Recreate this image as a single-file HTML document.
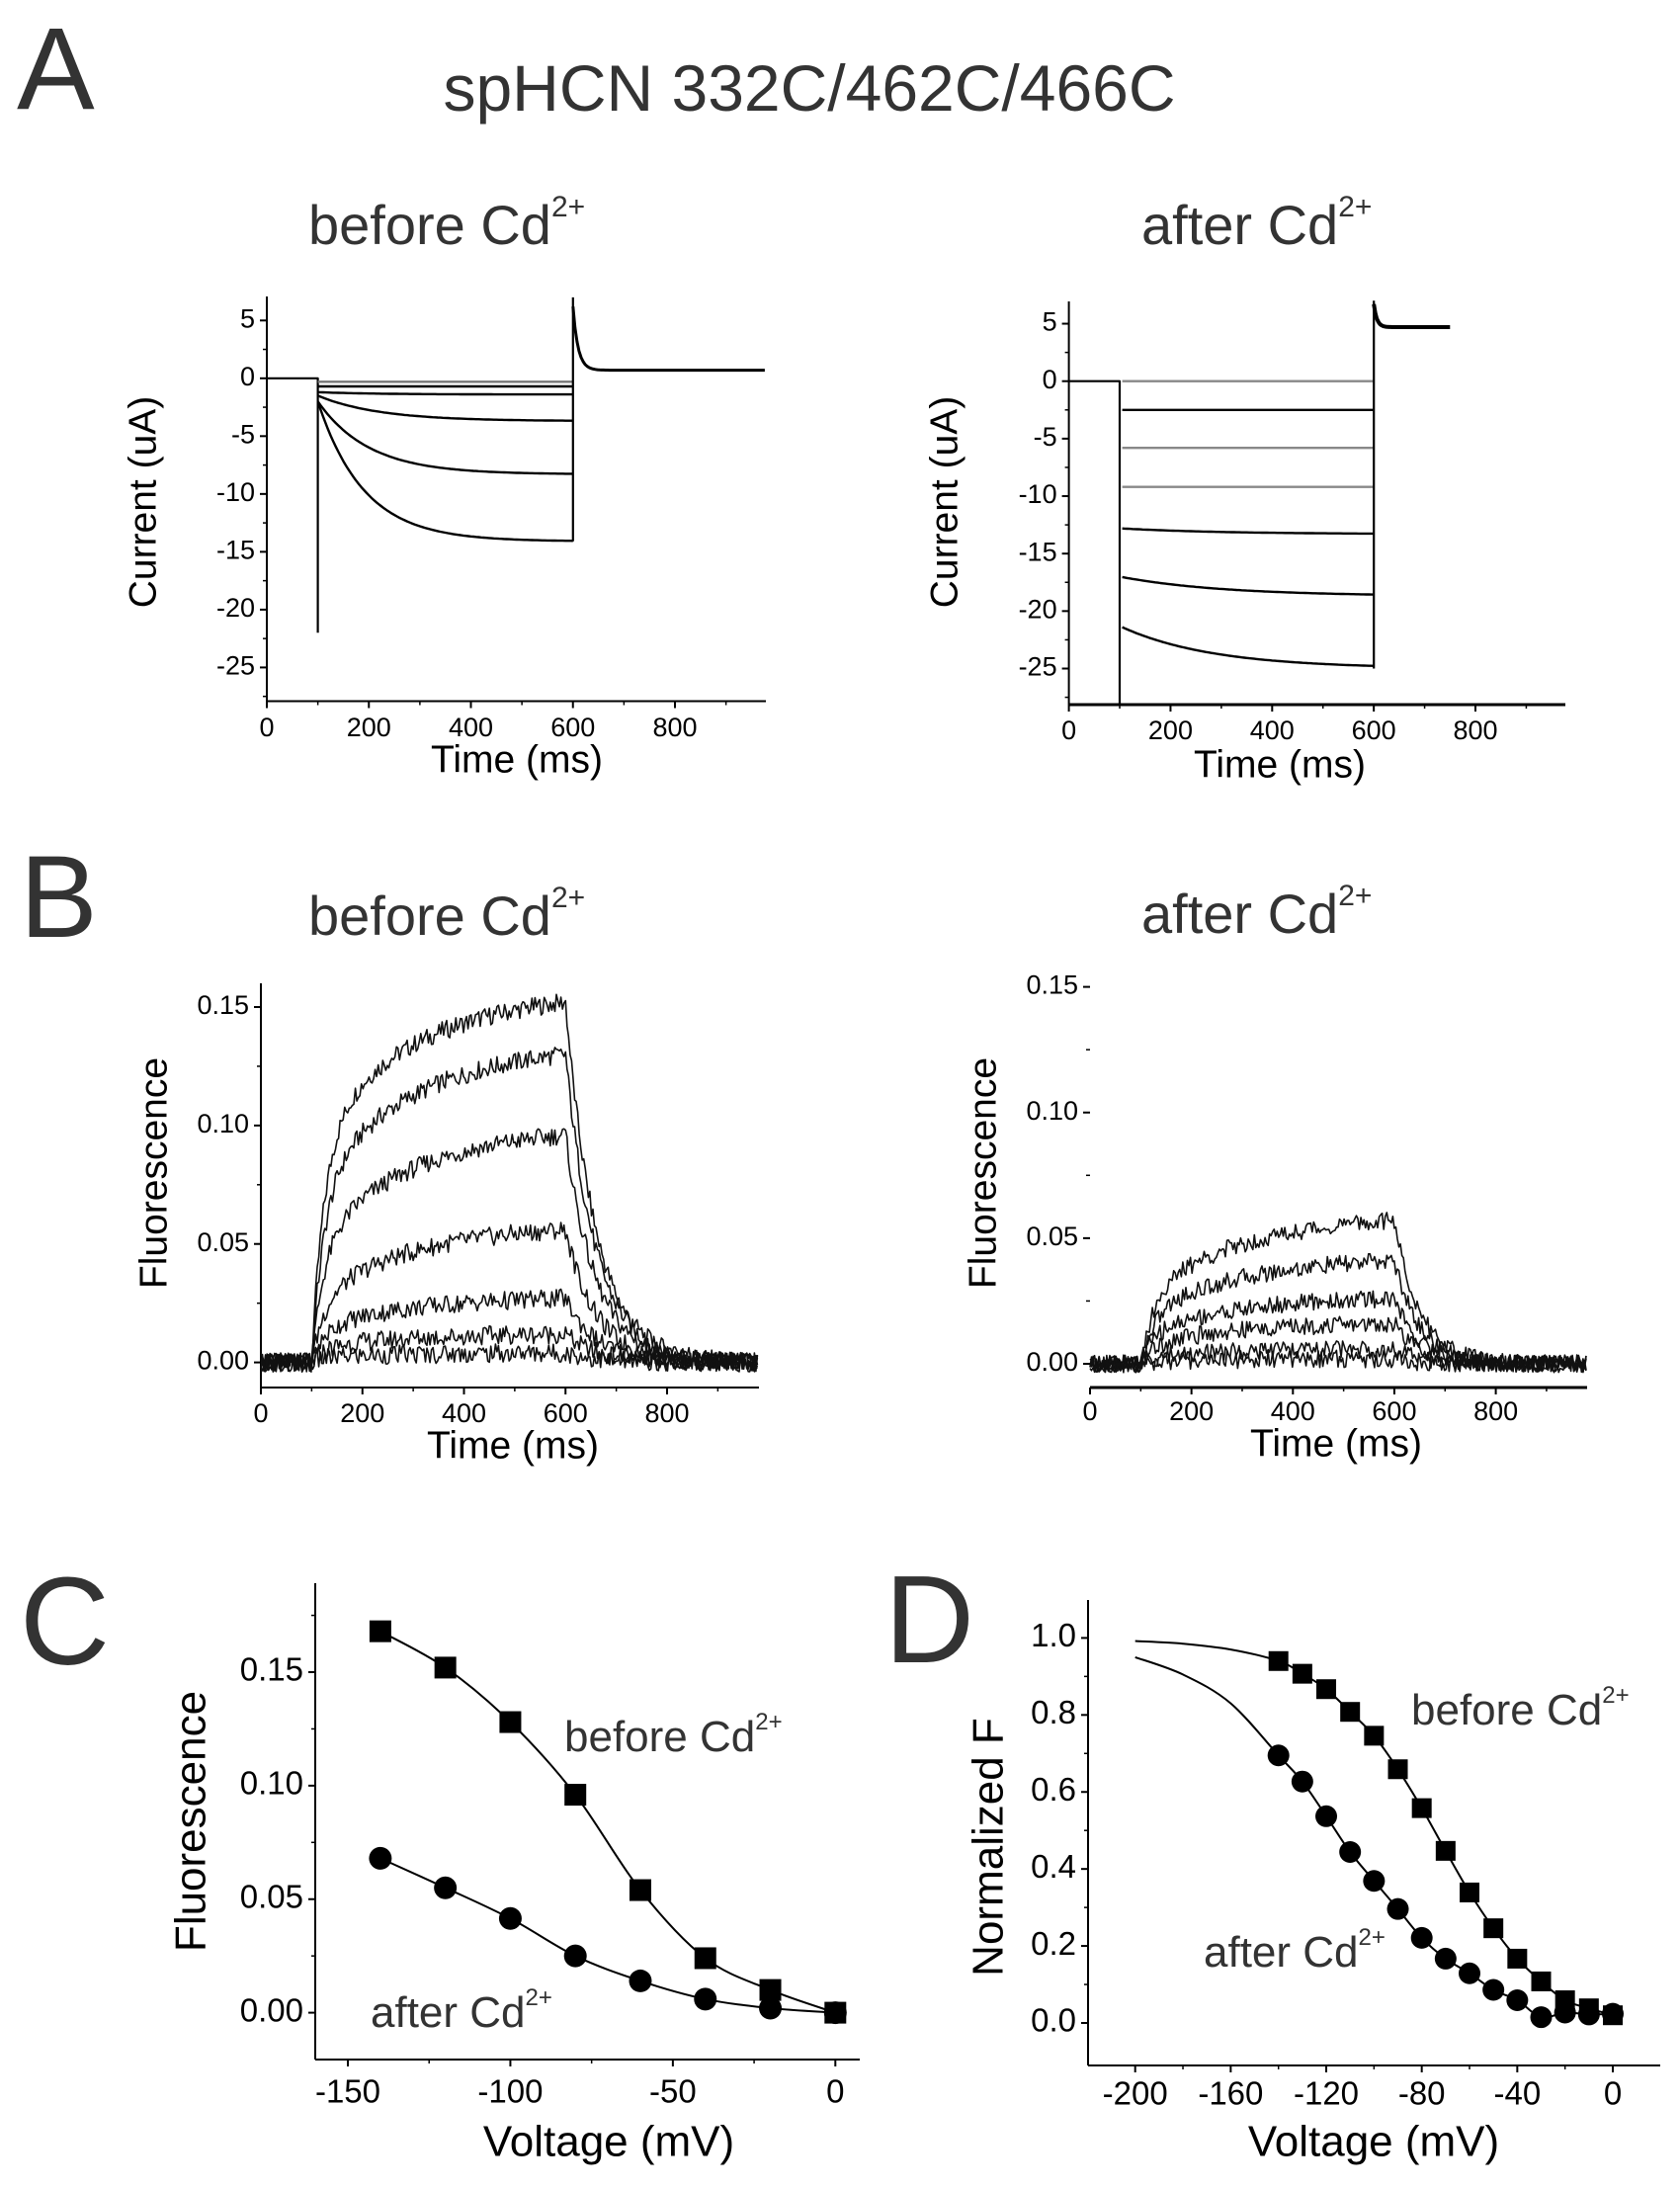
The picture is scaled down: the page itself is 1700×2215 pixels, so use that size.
<!DOCTYPE html>
<html><head><meta charset="utf-8"><style>
html,body{margin:0;padding:0;background:#fff;}
svg{display:block;font-family:"Liberation Sans",Arial,sans-serif;}
</style></head><body>
<svg id="fig" width="1700" height="2215" viewBox="0 0 1700 2215" xmlns="http://www.w3.org/2000/svg">
<g fill="#333">
<text x="17" y="110" font-size="118">A</text>
<text x="819" y="112" font-size="66" text-anchor="middle">spHCN 332C/462C/466C</text>
<text x="312" y="247" font-size="56">before Cd<tspan font-size="30" dy="-28">2+</tspan></text>
<text x="1155" y="247" font-size="56">after Cd<tspan font-size="30" dy="-28">2+</tspan></text>
<text x="20" y="948" font-size="118">B</text>
<text x="312" y="946" font-size="56">before Cd<tspan font-size="30" dy="-28">2+</tspan></text>
<text x="1155" y="944" font-size="56">after Cd<tspan font-size="30" dy="-28">2+</tspan></text>
<text x="20" y="1684" font-size="126">C</text>
<text x="895" y="1682" font-size="126">D</text>
<text x="571" y="1772" font-size="44">before Cd<tspan font-size="24" dy="-22">2+</tspan></text>
<text x="375" y="2051" font-size="44">after Cd<tspan font-size="24" dy="-22">2+</tspan></text>
<text x="1428" y="1745" font-size="44">before Cd<tspan font-size="24" dy="-22">2+</tspan></text>
<text x="1218" y="1990" font-size="44">after Cd<tspan font-size="24" dy="-22">2+</tspan></text>
</g>
<g id="plots"></g>
</svg>
<script>
// ---- Panel A data (current traces) ----
const aBeforeStart = [-0.3, -0.7, -1.2, -1.5, -2.0, -2.0];
const aBeforeEnd   = [-0.3, -0.7, -1.4, -3.7, -8.3, -14.1];
const aBeforeTau   = [100, 100, 120, 120, 100, 90];
const aBeforeTail = 0.7;
const aAfterStart = [0, -2.5, -5.8, -9.2, -12.8, -17.0, -21.3];
const aAfterEnd   = [0, -2.5, -5.8, -9.2, -13.3, -18.7, -25.0];
const aAfterTau   = [200, 200, 200, 200, 200, 200, 180];
const aAfterTail = 4.7;
const aYTicks = [5, 0, -5, -10, -15, -20, -25];
const timeTicks = [0, 200, 400, 600, 800];
// ---- Panel B data (fluorescence traces) ----
const bBeforeLevels = [0.152, 0.130, 0.096, 0.056, 0.027, 0.012, 0.004];
const bBeforeFastFrac = [0.6, 0.55, 0.5, 0.45, 0.5, 0.5, 0.5];
const bBeforeTauOff = [60, 60, 60, 60, 60, 60, 60];
const bAfterLevels = [0.057, 0.041, 0.026, 0.016, 0.006, 0.002];
const bAfterFastFrac = [0.45, 0.45, 0.45, 0.45, 0.45, 0.45];
const bAfterTauOff = [50, 50, 50, 50, 50, 50];
const bYTicks = [0.00, 0.05, 0.10, 0.15];
const bYTickLabels = ["0.00", "0.05", "0.10", "0.15"];
// ---- Panel C data ----
const cVoltages = [-140, -120, -100, -80, -60, -40, -20, 0];
const cBefore = [0.168, 0.152, 0.128, 0.096, 0.054, 0.024, 0.010, 0.000];
const cAfter  = [0.068, 0.055, 0.0415, 0.025, 0.014, 0.006, 0.002, 0.000];
const cXTicks = [-150, -100, -50, 0];
const cYTicks = [0.00, 0.05, 0.10, 0.15];
const cYTickLabels = ["0.00", "0.05", "0.10", "0.15"];
// ---- Panel D data ----
const dVoltages = [-140, -130, -120, -110, -100, -90, -80, -70, -60, -50, -40, -30, -20, -10, 0];
const dBefore = [0.94, 0.907, 0.867, 0.808, 0.746, 0.659, 0.558, 0.447, 0.339, 0.246, 0.167, 0.108, 0.059, 0.038, 0.020];
const dAfter  = [0.695, 0.627, 0.537, 0.444, 0.369, 0.296, 0.221, 0.167, 0.129, 0.086, 0.059, 0.015, 0.027, 0.022, 0.024];
const dBeforeFitV = [-200, -180, -160];
const dBeforeFitY = [0.992, 0.985, 0.97];
const dAfterFitV = [-200, -180, -160];
const dAfterFitY = [0.95, 0.905, 0.83];
const dXTicks = [-200, -160, -120, -80, -40, 0];
const dYTicks = [0.0, 0.2, 0.4, 0.6, 0.8, 1.0];
const dYTickLabels = ["0.0", "0.2", "0.4", "0.6", "0.8", "1.0"];

const NS = "http://www.w3.org/2000/svg";
const root = document.getElementById("plots");
function el(tag, attrs, parent) {
  const e = document.createElementNS(NS, tag);
  for (const k in attrs) e.setAttribute(k, attrs[k]);
  (parent || root).appendChild(e);
  return e;
}
function lin(d0, d1, r0, r1) { return v => r0 + (v - d0) * (r1 - r0) / (d1 - d0); }
function texture(i, k) { const s = Math.sin(i * 12.9898 + k * 78.233) * 43758.5453; return (s - Math.floor(s)) - 0.5; }

function axes(g, o) {
  if (o.yLine !== false) { const l = el("line", {x1:o.left, y1:o.top, x2:o.left, y2:o.bottom, stroke:"#000", "stroke-width":2}, g);
      }
  const xl = el("line", {x1:o.left, y1:o.bottom, x2:o.right, y2:o.bottom, stroke:"#000", "stroke-width":o.xw || 2}, g);
   
  o.xTicks.forEach((v, i) => {
    const x = o.sx(v);
    el("line", {x1:x, y1:o.bottom, x2:x, y2:o.bottom + 7, stroke:"#000", "stroke-width":2}, g);
    const t = el("text", {x:x, y:o.xLabY, "font-size":o.fs, "text-anchor":"middle", "dominant-baseline":"middle"}, g);
    t.textContent = o.xLabels ? o.xLabels[i] : String(v);
     
  });
  (o.xMinor || []).forEach(v => { const x = o.sx(v); el("line", {x1:x, y1:o.bottom, x2:x, y2:o.bottom + 4, stroke:"#000", "stroke-width":1.5}, g); });
  o.yTicks.forEach((v, i) => {
    const y = o.sy(v);
    el("line", {x1:o.left - 7, y1:y, x2:o.left, y2:y, stroke:"#000", "stroke-width":2}, g);
    const t = el("text", {x:o.left - 12, y:y, "font-size":o.fs, "text-anchor":"end", "dominant-baseline":"middle"}, g);
    t.textContent = o.yLabels ? o.yLabels[i] : String(v);
     
  });
  (o.yMinor || []).forEach(v => { const y = o.sy(v); el("line", {x1:o.left - 4, y1:y, x2:o.left, y2:y, stroke:"#000", "stroke-width":1.5}, g); });
  const xt = el("text", {x:o.xTitleX, y:o.xTitleY, "font-size":o.tfs, "text-anchor":"middle", "dominant-baseline":"middle"}, g);
  xt.textContent = o.xTitle;
   
  const yt = el("text", {x:0, y:0, "font-size":o.tfs, "text-anchor":"middle", "dominant-baseline":"middle",
    transform:"translate(" + o.yTitleX + "," + o.yTitleY + ") rotate(-90)"}, g);
  yt.textContent = o.yTitle;
   
}
function poly(g, pts, w, name, color) {
  const p = el("polyline", {points: pts.map(p => p[0].toFixed(1) + "," + p[1].toFixed(1)).join(" "), fill:"none", stroke:color || "#000", "stroke-width":w, "stroke-linejoin":"round"}, g);
   
  return p;
}
function smooth(g, pts, name) {
  let d = "M" + pts[0][0] + "," + pts[0][1];
  for (let i = 0; i < pts.length - 1; i++) {
    const p0 = pts[Math.max(0, i - 1)], p1 = pts[i], p2 = pts[i + 1], p3 = pts[Math.min(pts.length - 1, i + 2)];
    const c1 = [p1[0] + (p2[0] - p0[0]) / 6, p1[1] + (p2[1] - p0[1]) / 6];
    const c2 = [p2[0] - (p3[0] - p1[0]) / 6, p2[1] - (p3[1] - p1[1]) / 6];
    d += " C" + c1[0].toFixed(1) + "," + c1[1].toFixed(1) + " " + c2[0].toFixed(1) + "," + c2[1].toFixed(1) + " " + p2[0].toFixed(1) + "," + p2[1].toFixed(1);
  }
  const p = el("path", {d:d, fill:"none", stroke:"#000", "stroke-width":2}, g);
   
}

// ===== Panel A before =====
(function(){
  const g = el("g", {});  
  const sx = lin(0, 800, 270, 683), sy = lin(0, -25, 382.8, 675.4);
  axes(g, {name:"a-before", left:270, right:775, top:300, bottom:709.5, sx, sy, xTicks:timeTicks, yTicks:aYTicks,
    xMinor:[100,300,500,700,900], yMinor:[2.5,-2.5,-7.5,-12.5,-17.5,-22.5,-27.5], fs:27, tfs:39, xLabY:738,
    xTitle:"Time (ms)", xTitleX:523, xTitleY:771, yTitle:"Current (uA)", yTitleX:147, yTitleY:508});
  poly(g, [[sx(0), sy(0)], [sx(100), sy(0)], [sx(100), sy(-22)]], 2.2, "a-before-step-artifact");
  aBeforeEnd.forEach((iss, k) => {
    const pts = [];
    for (let t = 100; t <= 600; t += 5) pts.push([sx(t), sy(aBeforeStart[k] + (iss - aBeforeStart[k]) * (1 - Math.exp(-(t - 100) / aBeforeTau[k])))]);
    poly(g, pts, 2.4, "a-before-trace-" + k, k < 1 ? "#777" : "#000");
  });
  poly(g, [[sx(600), sy(aBeforeEnd[aBeforeEnd.length-1])], [sx(600), sy(7)]], 2.2, "a-before-tail-jump");
  const tail = [];
  for (let t = 600; t <= 978; t += 4) tail.push([sx(t), sy(aBeforeTail + 5.5 * Math.exp(-(t - 600) / 10))]);
  poly(g, tail, 3, "a-before-tail-current");
})();

// ===== Panel A after =====
(function(){
  const g = el("g", {});  
  const sx = lin(0, 800, 1081.6, 1493), sy = lin(0, -25, 385.7, 676.5);
  axes(g, {name:"a-after", left:1081.6, right:1584, top:305, bottom:713, sx, sy, xTicks:timeTicks, yTicks:aYTicks, xw:3,
    xMinor:[100,300,500,700,900], yMinor:[2.5,-2.5,-7.5,-12.5,-17.5,-22.5,-27.5], fs:27, tfs:39, xLabY:741,
    xTitle:"Time (ms)", xTitleX:1295, xTitleY:776, yTitle:"Current (uA)", yTitleX:958, yTitleY:508});
  poly(g, [[sx(0), sy(0)], [sx(100), sy(0)], [sx(100), 713]], 2.2, "a-after-step-artifact");
  aAfterEnd.forEach((iss, k) => {
    const pts = [];
    for (let t = 105; t <= 600; t += 5) pts.push([sx(t), sy(aAfterStart[k] + (iss - aAfterStart[k]) * (1 - Math.exp(-(t - 100) / aAfterTau[k])))]);
    poly(g, pts, 2.4, "a-after-trace-" + k, (k === 0 || k === 2 || k === 3) ? "#888" : "#000");
  });
  poly(g, [[sx(600), sy(aAfterEnd[aAfterEnd.length-1])], [sx(600), sy(7)]], 2.2, "a-after-tail-jump");
  const tail = [];
  for (let t = 600; t <= 750; t += 3) tail.push([sx(t), sy(aAfterTail + 2 * Math.exp(-(t - 600) / 6))]);
  poly(g, tail, 4, "a-after-tail-current");
})();

// ===== Panel B =====
function fTrace(level, frac, tauOff, t) {
  if (t < 100) return 0;
  if (t <= 600) return level * (frac * (1 - Math.exp(-(t - 100) / 25)) + (1 - frac) * (1 - Math.exp(-(t - 100) / 200))) / (frac + (1 - frac) * (1 - Math.exp(-500 / 200)));
  return level * Math.exp(-(t - 600) / tauOff);
}
(function(){
  const g = el("g", {});  
  const sx = lin(0, 800, 264, 675), sy = lin(0, 0.15, 1378.6, 1019);
  axes(g, {name:"b-before", left:264, right:768, top:995, bottom:1404, sx, sy, xTicks:timeTicks, yTicks:bYTicks, yLabels:bYTickLabels,
    xMinor:[100,300,500,700,900], yMinor:[0.025,0.075,0.125], fs:27, tfs:39, xLabY:1432,
    xTitle:"Time (ms)", xTitleX:519, xTitleY:1465, yTitle:"Fluorescence", yTitleX:158, yTitleY:1187});
  bBeforeLevels.forEach((lv, k) => {
    const pts = [];
    for (let t = 0, i = 0; t <= 980; t += 3, i++) pts.push([sx(t), sy(fTrace(lv, bBeforeFastFrac[k], bBeforeTauOff[k], t) + 0.008 * texture(i, k))]);
    poly(g, pts, 1.6, "b-before-trace-" + k, "#111");
  });
})();
(function(){
  const g = el("g", {});  
  const sx = lin(0, 800, 1103, 1513.6), sy = lin(0, 0.15, 1380, 998.6);
  axes(g, {name:"b-after", left:1103, right:1606, top:995, bottom:1404, sx, sy, xTicks:timeTicks, yTicks:bYTicks, yLabels:bYTickLabels, yLine:false, xw:3,
    xMinor:[100,300,500,700,900], yMinor:[0.025,0.075,0.125], fs:27, tfs:39, xLabY:1430,
    xTitle:"Time (ms)", xTitleX:1352, xTitleY:1463, yTitle:"Fluorescence", yTitleX:997, yTitleY:1187});
  bAfterLevels.forEach((lv, k) => {
    const pts = [];
    for (let t = 0, i = 0; t <= 980; t += 3, i++) pts.push([sx(t), sy(fTrace(lv, bAfterFastFrac[k], bAfterTauOff[k], t) + 0.007 * texture(i, k + 20))]);
    poly(g, pts, 1.6, "b-after-trace-" + k, "#111");
  });
})();

// ===== Panel C =====
(function(){
  const g = el("g", {});  
  const sx = lin(-150, 0, 352, 845.3), sy = lin(0, 0.15, 2036.6, 1692);
  axes(g, {name:"c", left:319, right:870, top:1602, bottom:2084, sx, sy, xTicks:cXTicks, yTicks:cYTicks, yLabels:cYTickLabels,
    xMinor:[-125,-75,-25], yMinor:[0.025,0.075,0.125,0.175], fs:33, tfs:44, xLabY:2119,
    xTitle:"Voltage (mV)", xTitleX:616, xTitleY:2170, yTitle:"Fluorescence", yTitleX:196, yTitleY:1843});
  smooth(g, cVoltages.map((v, i) => [sx(v), sy(cBefore[i])]), "c-before-line");
  smooth(g, cVoltages.map((v, i) => [sx(v), sy(cAfter[i])]), "c-after-line");
  cVoltages.forEach((v, i) => {
    const r = el("rect", {x:sx(v) - 11, y:sy(cBefore[i]) - 11, width:22, height:22, fill:"#000"}, g);
     
    const c = el("circle", {cx:sx(v), cy:sy(cAfter[i]), r:11.5, fill:"#000"}, g);
     
  });
})();

// ===== Panel D =====
(function(){
  const g = el("g", {});  
  const sx = lin(-200, 0, 1148.7, 1632), sy = lin(0, 1, 2047, 1657.4);
  axes(g, {name:"d", left:1101, right:1680, top:1619, bottom:2090, sx, sy, xTicks:dXTicks, yTicks:dYTicks, yLabels:dYTickLabels,
    xMinor:[-180,-140,-100,-60,-20], yMinor:[0.1,0.3,0.5,0.7,0.9], fs:33, tfs:44, xLabY:2121,
    xTitle:"Voltage (mV)", xTitleX:1390, xTitleY:2170, yTitle:"Normalized F", yTitleX:1003, yTitleY:1869});
  smooth(g, dBeforeFitV.map((v, i) => [sx(v), sy(dBeforeFitY[i])]).concat(dVoltages.map((v, i) => [sx(v), sy(dBefore[i])])), "d-before-fit");
  smooth(g, dAfterFitV.map((v, i) => [sx(v), sy(dAfterFitY[i])]).concat(dVoltages.map((v, i) => [sx(v), sy(dAfter[i])])), "d-after-fit");
  dVoltages.forEach((v, i) => {
    const r = el("rect", {x:sx(v) - 10, y:sy(dBefore[i]) - 10, width:20, height:20, fill:"#000"}, g);
     
    const c = el("circle", {cx:sx(v), cy:sy(dAfter[i]), r:11, fill:"#000"}, g);
     
  });
})();
</script>
</body></html>
